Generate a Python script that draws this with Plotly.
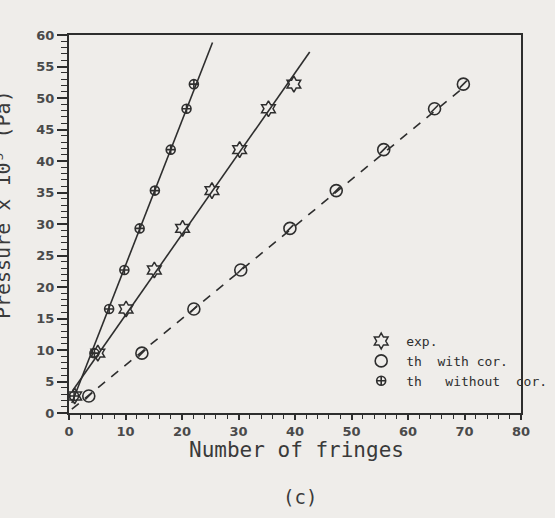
import plotly.graph_objects as go

# ---- data ----
pressure = [2.7, 9.5, 16.5, 22.7, 29.3, 35.3, 41.8, 48.3, 52.2]
fringes_exp = [1.0, 5.1, 10.1, 15.1, 20.1, 25.3, 30.2, 35.3, 39.8]
fringes_th_cor = [3.5, 12.9, 22.1, 30.4, 39.1, 47.3, 55.7, 64.7, 69.8]
fringes_th_nocor = [0.9, 4.5, 7.1, 9.8, 12.5, 15.2, 18.0, 20.8, 22.1]

# straight-line fits drawn on the chart (end points)
fit_exp_x = [0.6, 42.6]
fit_exp_y = [3.5, 57.3]
fit_cor_x = [0.5, 70.0]
fit_cor_y = [0.6, 51.8]
fit_nocor_x = [0.5, 25.4]
fit_nocor_y = [1.6, 58.8]

x_ticks = [0, 10, 20, 30, 40, 50, 60, 70, 80]
y_ticks = [0, 5, 10, 15, 20, 25, 30, 35, 40, 45, 50, 55, 60]

INK = "#2e2e2e"
PAPER = "#efedea"

fig = go.Figure()

# fit lines
fig.add_trace(go.Scatter(x=fit_nocor_x, y=fit_nocor_y, mode="lines",
                         line=dict(color=INK, width=1.6), showlegend=False, hoverinfo="skip"))
fig.add_trace(go.Scatter(x=fit_exp_x, y=fit_exp_y, mode="lines",
                         line=dict(color=INK, width=1.6), showlegend=False, hoverinfo="skip"))
fig.add_trace(go.Scatter(x=fit_cor_x, y=fit_cor_y, mode="lines",
                         line=dict(color=INK, width=1.6, dash="9px,8px"),
                         showlegend=False, hoverinfo="skip"))

# markers
fig.add_trace(go.Scatter(x=fringes_exp, y=pressure, mode="markers", name="exp.",
                         marker=dict(symbol="hexagram-open", size=12, color=INK,
                                     line=dict(color=INK, width=1.5))))
fig.add_trace(go.Scatter(x=fringes_th_cor, y=pressure, mode="markers", name="th  with cor.",
                         marker=dict(symbol="circle-open", size=12, color=INK,
                                     line=dict(color=INK, width=1.6))))
fig.add_trace(go.Scatter(x=fringes_th_cor, y=pressure, mode="markers", showlegend=False,
                         marker=dict(symbol="line-ne", size=7, color=INK,
                                     line=dict(color=INK, width=1.6))))
fig.add_trace(go.Scatter(x=fringes_th_nocor, y=pressure, mode="markers",
                         name="th   without  cor.",
                         marker=dict(symbol="circle-cross-open", size=9, color=INK,
                                     line=dict(color=INK, width=1.6))))

axis_common = dict(
    showgrid=False, zeroline=False, showline=True, linecolor=INK, linewidth=2,
    mirror=True, ticks="outside", tickcolor=INK, tickwidth=1.5, automargin=False,
    tickfont=dict(family="DejaVu Sans", size=13, color="#4a4a4a", weight="bold"),
)

fig.update_xaxes(range=[0, 80], tickvals=x_ticks, ticktext=[str(v) for v in x_ticks],
                 ticklen=5,
                 minor=dict(dtick=2, ticklen=4, ticks="outside", tickcolor=INK, tickwidth=1.3),
                 **axis_common)
fig.update_yaxes(range=[0, 60], tickvals=y_ticks, ticktext=[str(v) for v in y_ticks],
                 ticklen=10,
                 minor=dict(dtick=1, ticklen=6, ticks="outside", tickcolor=INK, tickwidth=1.3),
                 **axis_common)

fig.add_annotation(text="Number of fringes", xref="paper", yref="paper",
                   x=0.503, y=-0.098, xanchor="center", yanchor="middle", showarrow=False,
                   font=dict(family="DejaVu Sans Mono", size=21, color="#3a3a3a"))
fig.add_annotation(text="Pressure x 10⁵ (Pa)", xref="paper", yref="paper",
                   x=-0.146, y=0.55, xanchor="center", yanchor="middle",
                   textangle=-90, showarrow=False,
                   font=dict(family="DejaVu Sans Mono", size=20, color="#3a3a3a"))
fig.add_annotation(text="(c)", xref="paper", yref="paper",
                   x=0.51, y=-0.222, xanchor="center", yanchor="middle",
                   showarrow=False,
                   font=dict(family="DejaVu Sans Mono", size=19, color="#3a3a3a"))

fig.update_layout(
    width=555, height=518,
    margin=dict(l=69, r=34, t=35, b=105, autoexpand=False),
    paper_bgcolor=PAPER, plot_bgcolor=PAPER,
    showlegend=True,
    legend=dict(x=1.069, y=0.23, xanchor="right", yanchor="top",
                bgcolor="rgba(0,0,0,0)", borderwidth=0,
                font=dict(family="DejaVu Sans Mono", size=13, color="#2e2e2e"),
                itemwidth=40, tracegroupgap=0),
)

fig.write_html(
    "out.html",
    config={"displayModeBar": False},
    post_script=("document.body.style.margin='0px';"
                 "document.body.style.overflow='hidden';"
                 "document.body.style.background='#efedea';"),
)
